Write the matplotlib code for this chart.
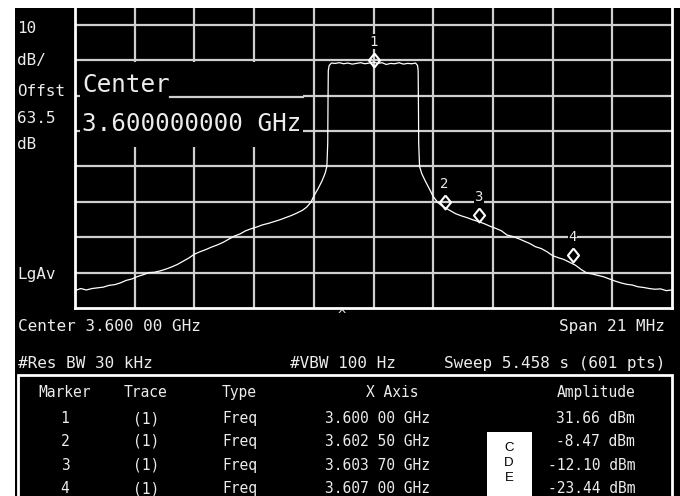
import matplotlib.pyplot as plt
import numpy as np
from matplotlib.patches import Rectangle
from matplotlib.lines import Line2D

# screenshot size in pixels
W, H = 680, 496

center_ghz = 3.6
span_mhz = 21.0
bottom_dbm = -38.5     # level of the bottom graticule line
top_dbm = 46.25        # level at the cropped top edge

# trace: offset from center (MHz) and level (dBm)
trace_off_mhz = [
    -10.50, -10.30, -10.10, -9.90, -9.70, -9.50, -9.30, -9.10, -8.90, -8.70,
    -8.50, -8.30, -8.10, -7.90, -7.70, -7.50, -7.30, -7.10, -6.90, -6.70,
    -6.50, -6.30, -6.10, -5.90, -5.70, -5.50, -5.30, -5.10, -4.90, -4.70,
    -4.50, -4.30, -4.10, -3.90, -3.70, -3.50, -3.30, -3.10, -2.90, -2.70,
    -2.50, -2.35, -2.20, -2.10, -1.95, -1.80, -1.70, -1.64, -1.61, -1.60,
    -1.59, -1.56, -1.48, -1.35, -1.20, -1.05, -0.90, -0.75, -0.60, -0.45,
    -0.30, -0.15, 0.00, 0.15, 0.30, 0.45, 0.60, 0.75, 0.90, 1.05,
    1.20, 1.35, 1.48, 1.55, 1.57, 1.58, 1.59, 1.62, 1.70, 1.82,
    1.95, 2.10, 2.25, 2.40, 2.55, 2.70, 2.90, 3.10, 3.30, 3.50,
    3.70, 3.90, 4.10, 4.30, 4.50, 4.70, 4.90, 5.10, 5.30, 5.50,
    5.70, 5.90, 6.10, 6.30, 6.50, 6.70, 6.90, 7.10, 7.30, 7.50,
    7.70, 7.90, 8.10, 8.30, 8.50, 8.70, 8.90, 9.10, 9.30, 9.50,
    9.70, 9.90, 10.10, 10.30, 10.50,
]
trace_dbm = [
    -33.6, -33.0, -33.4, -33.0, -32.8, -32.6, -32.1, -31.9, -31.4, -30.7,
    -30.3, -29.6, -29.1, -28.5, -28.4, -28.0, -27.5, -26.9, -26.2, -25.3,
    -24.4, -23.3, -22.6, -22.0, -21.3, -20.7, -20.0, -19.1, -18.2, -17.6,
    -16.7, -16.1, -15.6, -15.0, -14.6, -14.1, -13.6, -13.0, -12.4, -11.7,
    -10.9, -10.0, -8.6, -6.9, -4.8, -2.4, -0.4, 1.5, 8.0, 20.0,
    28.6, 30.0, 30.7, 30.6, 30.8, 30.5, 30.7, 30.4, 30.6, 30.8,
    30.5, 30.7, 31.0, 30.6, 30.8, 30.3, 30.6, 30.5, 30.8, 30.4,
    30.6, 30.5, 30.7, 30.0, 28.6, 20.0, 8.0, 1.5, -0.6, -2.6,
    -4.6, -7.0, -8.6, -9.6, -10.3, -11.0, -11.9, -12.5, -13.0, -13.6,
    -14.1, -14.7, -15.4, -16.0, -16.7, -17.9, -18.3, -18.9, -19.6, -20.3,
    -21.2, -21.7, -22.6, -23.7, -24.3, -24.8, -25.6, -26.4, -27.6, -28.6,
    -28.9, -29.3, -29.7, -30.3, -30.9, -31.4, -31.8, -32.0, -32.5, -32.7,
    -33.0, -33.2, -33.1, -33.6, -33.4,
]

marker_ids = [1, 2, 3, 4]
marker_ghz = [3.60000, 3.60250, 3.60370, 3.60700]
marker_dbm = [31.66, -8.47, -12.10, -23.44]

side_labels = ["10", "dB/", "Offst", "63.5", "dB"]

MONO = "DejaVu Sans Mono"
FG = "#ececec"
GRID = "#cfcfcf"


def fx(x):
    return x / W


def fy(y):
    return 1 - y / H


def label(x, y, s, size, ha="left", va="baseline", color=FG, family=MONO, z=6):
    fig.text(fx(x), fy(y), s, ha=ha, va=va, fontsize=size, color=color,
             family=family, zorder=z)


fig = plt.figure(figsize=(W / 100, H / 100), dpi=100)
fig.patch.set_facecolor("white")
fig.add_artist(Rectangle((fx(15), 0), fx(W - 15), fy(8), transform=fig.transFigure,
                         facecolor="black", edgecolor="none", zorder=-5))

ax = fig.add_axes([fx(75), fy(308), fx(597), 300 / H])
ax.set_facecolor("black")
ax.set_xlim(-span_mhz / 2, span_mhz / 2)
ax.set_ylim(bottom_dbm, top_dbm)
ax.set_xticks(np.arange(-4, 5) * span_mhz / 10)
ax.set_yticks(np.arange(1, 9) * 10 + bottom_dbm)
ax.tick_params(length=0, labelbottom=False, labelleft=False)
ax.grid(True, color=GRID, lw=1.6)
ax.set_axisbelow(True)
for side in ["left", "bottom", "right"]:
    ax.spines[side].set_color("white")
    ax.spines[side].set_linewidth(2)
ax.spines["top"].set_visible(False)

ax.plot(trace_off_mhz, trace_dbm, color="white", lw=0.9, zorder=3)

mk_off = [(g - center_ghz) * 1000 for g in marker_ghz]
diamond = [(0, 1), (0.8, 0), (0, -1), (-0.8, 0), (0, 1)]
ax.plot(mk_off, marker_dbm, linestyle="none", marker=diamond, ms=10, mfc="none",
        mec="white", mew=1.5, zorder=4)
for mid, xo, yv in zip(marker_ids, mk_off, marker_dbm):
    ax.annotate(str(mid), (xo, yv), xytext=(0, 18), textcoords="offset pixels",
                ha="center", va="center", fontsize=10, color=FG, family=MONO,
                bbox=dict(facecolor="black", edgecolor="none", pad=0.5), zorder=5)

# big center-frequency readout, boxed over the graticule
fig.add_artist(Rectangle((fx(80), fy(147)), fx(223), (147 - 62) / H,
                         transform=fig.transFigure, facecolor="black",
                         edgecolor="none", zorder=4))
fig.add_artist(Line2D([fx(170), fx(303)], [fy(96.5), fy(96.5)],
                      transform=fig.transFigure, color=GRID, lw=1.6, zorder=4.5))
label(82, 92, "Center", 17.5)
label(82, 131, f"{center_ghz:.9f} GHz", 17.5)

# left column readouts
for s, yb in zip(side_labels, [33, 65, 96, 123, 149]):
    label(17, yb, s, 11.5)
label(17, 279, "LgAv", 11.5)

label(342, 309, "^", 10, ha="center", va="top")

# status lines
label(18, 331, f"Center {center_ghz:.3f} 00 GHz", 11.5)
label(665, 331, f"Span {span_mhz:.0f} MHz", 11.5, ha="right")
label(18, 368, "#Res BW 30 kHz", 11.5)
label(290, 368, "#VBW 100 Hz", 11.5)
label(665, 368, "Sweep 5.458 s (601 pts)", 11.5, ha="right")

# marker table
fig.add_artist(Rectangle((fx(18), fy(500)), fx(654), (500 - 375) / H,
                         transform=fig.transFigure, facecolor="none",
                         edgecolor="white", lw=2, zorder=6))
label(65, 397, "Marker", 10.5, ha="center")
label(146, 397, "Trace", 10.5, ha="center")
label(222, 397, "Type", 10.5)
label(392, 397, "X Axis", 10.5, ha="center")
label(635, 397, "Amplitude", 10.5, ha="right")
for mid, g, a, yb in zip(marker_ids, marker_ghz, marker_dbm, [423, 446, 470, 493]):
    gs = f"{g:.5f}"
    label(65, yb, str(mid), 10.5, ha="center")
    label(146, yb, "(1)", 10.5, ha="center")
    label(222, yb, "Freq", 10.5)
    label(430, yb, f"{gs[:5]} {gs[5:]} GHz", 10.5, ha="right")
    label(635, yb, f"{a:.2f} dBm", 10.5, ha="right")

fig.add_artist(Rectangle((fx(487), fy(500)), fx(45), (500 - 432) / H,
                         transform=fig.transFigure, facecolor="white",
                         edgecolor="none", zorder=7))
for s, yc in zip(["C", "D", "E"], [448, 463, 478]):
    label(509, yc, s, 9.5, ha="center", va="center", color="black",
          family="Liberation Sans", z=8)

fig.savefig("out.png", dpi=100, facecolor=fig.get_facecolor())
